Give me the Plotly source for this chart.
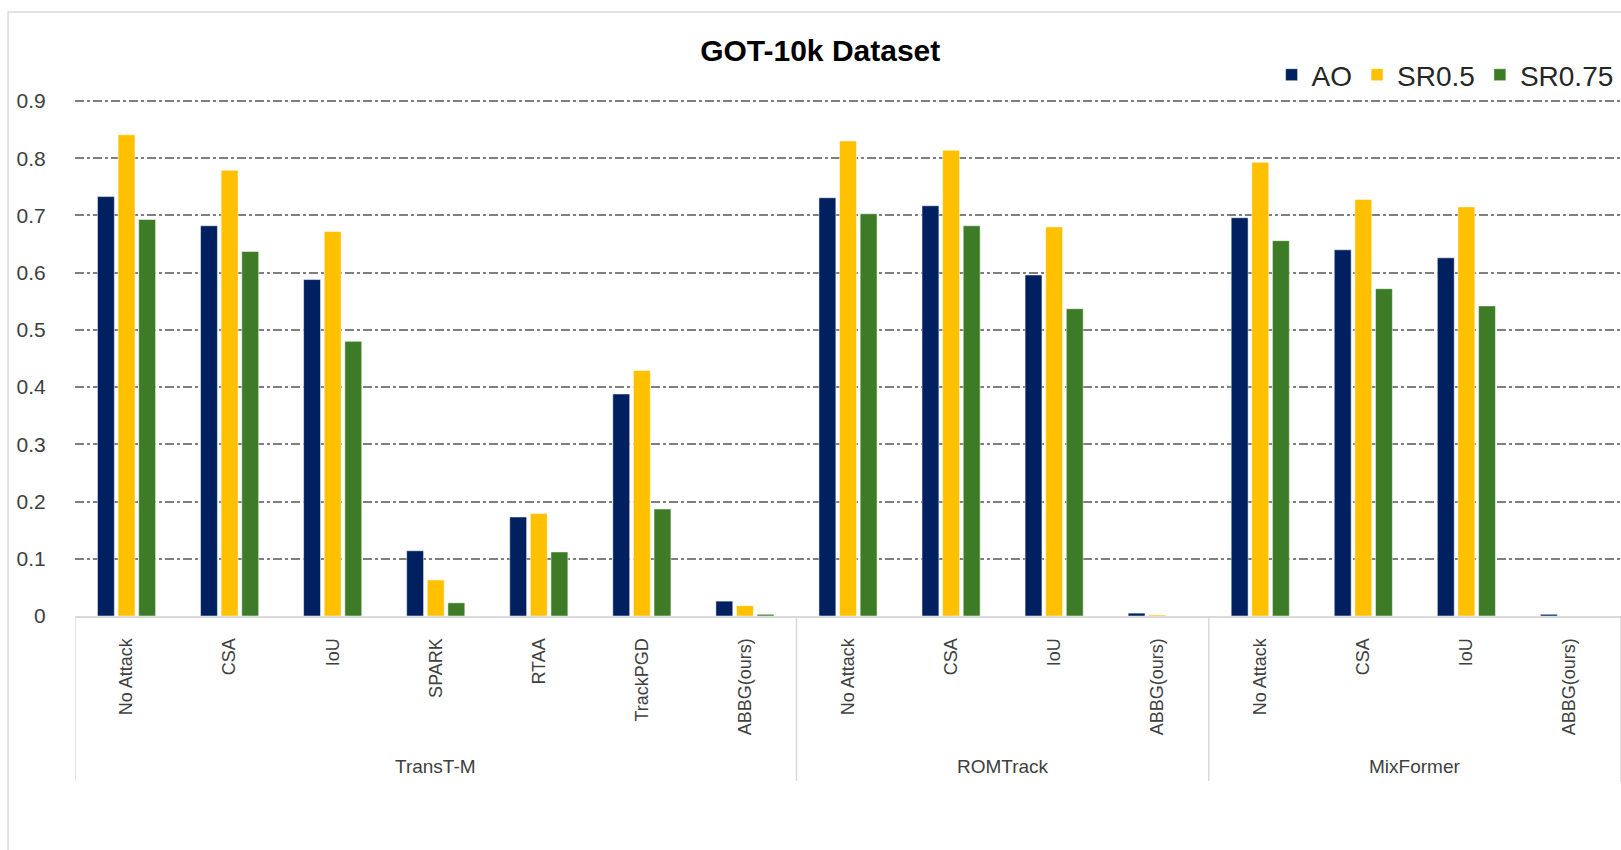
import plotly.graph_objects as go

groups = ["TransT-M", "ROMTrack", "MixFormer"]
group_categories = [
    ["No Attack", "CSA", "IoU", "SPARK", "RTAA", "TrackPGD", "ABBG(ours)"],
    ["No Attack", "CSA", "IoU", "ABBG(ours)"],
    ["No Attack", "CSA", "IoU", "ABBG(ours)"],
]
series_names = ["AO", "SR0.5", "SR0.75"]
ao = [0.733, 0.682, 0.588, 0.114, 0.173, 0.388, 0.026,
      0.731, 0.717, 0.596, 0.005,
      0.696, 0.640, 0.626, 0.003]
sr05 = [0.841, 0.779, 0.672, 0.063, 0.179, 0.429, 0.018,
        0.830, 0.814, 0.680, 0.002,
        0.793, 0.728, 0.715, 0.0]
sr075 = [0.693, 0.637, 0.480, 0.023, 0.112, 0.187, 0.003,
         0.703, 0.682, 0.537, 0.0,
         0.656, 0.572, 0.542, 0.0]
colors = ["#002060", "#FFC000", "#3E7B27"]
y_ticks = [0, 0.1, 0.2, 0.3, 0.4, 0.5, 0.6, 0.7, 0.8, 0.9]
y_tick_text = ["0", "0.1", "0.2", "0.3", "0.4", "0.5", "0.6", "0.7", "0.8", "0.9"]

FONT = "Liberation Sans Narrow, Arial Narrow, Liberation Sans, Arial, sans-serif"

categories = [c for g in group_categories for c in g]
xs = list(range(len(categories)))

fig = go.Figure()
for name, vals, col in zip(series_names, [ao, sr05, sr075], colors):
    fig.add_trace(go.Bar(
        x=xs, y=vals, name=name,
        marker=dict(color=col, line=dict(color="rgba(255,255,255,0.5)", width=1)),
    ))

# group boundaries and labels
shapes = []
annotations = []
start = 0
bounds = [-0.5]
for g, cats in zip(groups, group_categories):
    end = start + len(cats)
    bounds.append(end - 0.5)
    annotations.append(dict(
        x=(start + end - 1) / 2, y=-0.2896, xref="x", yref="paper",
        text=g, showarrow=False, yanchor="middle", xanchor="center",
        font=dict(family=FONT, size=19, color="#404040"),
    ))
    start = end
for b in bounds:
    shapes.append(dict(type="line", xref="x", yref="paper", x0=b, x1=b,
                       y0=0, y1=-0.3185, line=dict(color="#d9d9d9", width=1.5)))
# outer chart border
shapes.append(dict(type="rect", xref="paper", yref="paper",
                   x0=-0.0433, x1=1.2, y0=-0.6, y1=1.166,
                   line=dict(color="#d9d9d9", width=1.5), layer="below"))

fig.update_layout(
    width=1621, height=850,
    margin=dict(l=75, r=0, t=98, b=234, pad=0, autoexpand=False),
    paper_bgcolor="white", plot_bgcolor="white",
    title=dict(text="<b>GOT-10k Dataset</b>", x=0.506, xref="container", xanchor="center",
               y=1 - 50 / 850, yref="container", yanchor="middle",
               font=dict(family=FONT, size=30, color="#000000")),
    barmode="group", bargap=0.4, bargroupgap=0.18,
    legend=dict(orientation="h", x=0.774, xanchor="left", y=1.0444, yanchor="middle",
                font=dict(family=FONT, size=28, color="#262626"),
                traceorder="normal", bgcolor="rgba(0,0,0,0)",
                itemwidth=30, tracegroupgap=0),
    shapes=shapes,
    annotations=annotations,
    showlegend=True,
)
fig.update_xaxes(
    range=[-0.5, len(categories) - 0.5],
    tickmode="array", tickvals=xs, ticktext=categories, tickangle=-90,
    ticks="outside", ticklen=13, tickcolor="rgba(0,0,0,0)",
    tickfont=dict(family=FONT, size=18, color="#404040"),
    showline=True, linecolor="#d9d9d9", linewidth=2,
    showgrid=False, zeroline=False, fixedrange=True,
)
fig.update_yaxes(
    range=[0, 0.9053], tickmode="array", tickvals=y_ticks, ticktext=y_tick_text,
    ticks="outside", ticklen=24, tickcolor="rgba(0,0,0,0)",
    tickfont=dict(family=FONT, size=21, color="#404040"),
    showgrid=True, gridcolor="#7f7f7f", griddash="dashdot", gridwidth=1.5,
    zeroline=False, showline=False, fixedrange=True,
)

fig.write_html("out.html", config={"displayModeBar": False})
